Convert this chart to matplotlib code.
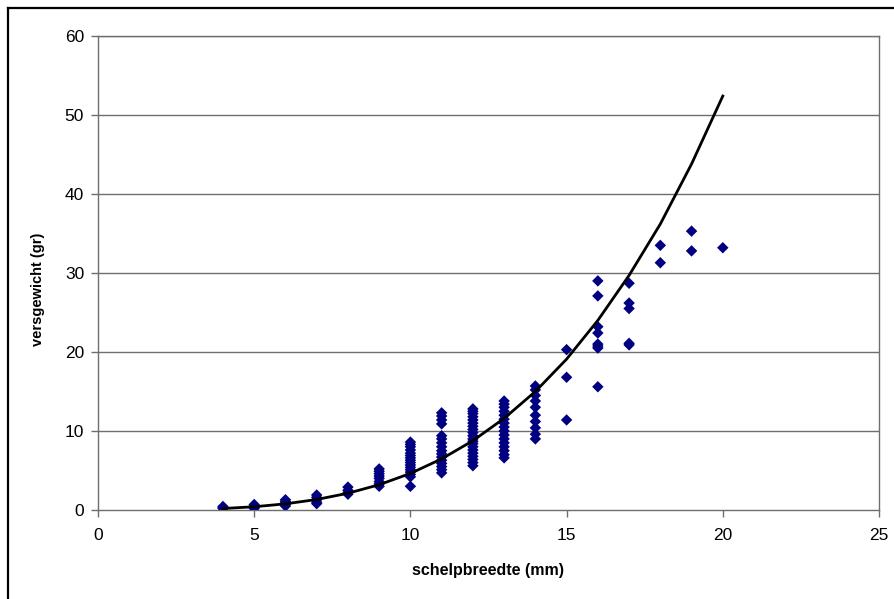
import matplotlib
matplotlib.use("Agg")
import matplotlib.pyplot as plt
from matplotlib.lines import Line2D

plt.rcParams['font.family'] = ['Liberation Sans', 'DejaVu Sans']

# Observed data: shell width (mm) -> fresh weight (g)
x_4 = [4, 4, 4]
y_4 = [0.2, 0.3, 0.45]
x_5 = [5, 5, 5, 5]
y_5 = [0.2, 0.35, 0.5, 0.7]
x_6 = [6, 6, 6, 6, 6]
y_6 = [0.5, 0.7, 0.9, 1.1, 1.3]
x_7 = [7, 7, 7, 7, 7]
y_7 = [0.8, 1.0, 1.3, 1.6, 1.9]
x_8 = [8, 8, 8, 8]
y_8 = [2.0, 2.2, 2.5, 2.9]
x_9 = [9, 9, 9, 9, 9, 9, 9, 9]
y_9 = [3.0, 3.3, 3.6, 4.0, 4.3, 4.6, 4.9, 5.2]
x_10 = [10] * 16
y_10 = [3.0, 4.2, 4.5, 4.8, 5.1, 5.4, 5.7, 6.0, 6.3, 6.6, 6.9, 7.2, 7.6, 8.0, 8.3, 8.6]
x_11 = [11] * 16
y_11 = [4.7, 5.1, 5.5, 5.9, 6.3, 6.7, 7.1, 7.5, 8.0, 8.5, 9.0, 9.4, 10.9, 11.4, 11.9, 12.3]
x_12 = [12] * 20
y_12 = [5.6, 6.0, 6.4, 6.8, 7.2, 7.6, 8.0, 8.4, 8.7, 9.0, 9.4, 9.8, 10.2, 10.6, 11.0,
        11.4, 11.8, 12.2, 12.5, 12.8]
x_13 = [13] * 16
y_13 = [6.6, 7.0, 7.5, 8.0, 8.5, 9.0, 9.5, 10.0, 10.5, 11.0, 11.5, 12.0, 12.5, 13.0, 13.4, 13.8]
x_14 = [14] * 10
y_14 = [9.0, 9.6, 10.4, 11.2, 12.0, 13.0, 13.8, 14.5, 15.2, 15.7]
x_15 = [15, 15, 15]
y_15 = [11.4, 16.8, 20.3]
x_16 = [16] * 8
y_16 = [15.6, 20.5, 20.75, 21.0, 22.4, 23.2, 27.1, 29.0]
x_17 = [17] * 5
y_17 = [20.9, 21.1, 25.5, 26.2, 28.7]
x_18 = [18, 18]
y_18 = [31.3, 33.5]
x_19 = [19, 19]
y_19 = [32.8, 35.3]
x_20 = [20]
y_20 = [33.2]

obs_x = (x_4 + x_5 + x_6 + x_7 + x_8 + x_9 + x_10 + x_11 + x_12 + x_13 + x_14 +
         x_15 + x_16 + x_17 + x_18 + x_19 + x_20)
obs_y = (y_4 + y_5 + y_6 + y_7 + y_8 + y_9 + y_10 + y_11 + y_12 + y_13 + y_14 +
         y_15 + y_16 + y_17 + y_18 + y_19 + y_20)

# Trend line values
trend_x = [4, 5, 6, 7, 8, 9, 10, 11, 12, 13, 14, 15, 16, 17, 18, 19, 20]
trend_y = [0.19, 0.41, 0.78, 1.33, 2.12, 3.2, 4.63, 6.47, 8.77, 11.6, 15.0, 19.1,
           24.0, 29.7, 36.2, 43.8, 52.4]

x_ticks = [0, 5, 10, 15, 20, 25]
y_ticks = [0, 10, 20, 30, 40, 50, 60]

fig = plt.figure(figsize=(8.95, 5.99), dpi=100)
ax = fig.add_axes([98 / 895, 1 - 510 / 599, (879 - 98) / 895, (510 - 36) / 599])

grid_col = '#6e6e6e'
for yv in y_ticks[1:]:
    ax.axhline(yv, color=grid_col, lw=1.0, zorder=1)

ax.scatter(obs_x, obs_y, marker='D', s=34, color='#000080', edgecolors='none', zorder=3)
ax.plot(trend_x, trend_y, color='black', lw=2.0, zorder=4)

ax.set_xlim(0, 25)
ax.set_ylim(0, 60)
ax.set_xticks(x_ticks)
ax.set_yticks(y_ticks)
ax.set_xticklabels([str(v) for v in x_ticks])
ax.set_yticklabels([str(v) for v in y_ticks])

for s in ax.spines.values():
    s.set_color(grid_col)
    s.set_linewidth(1.0)
ax.tick_params(axis='both', direction='out', color=grid_col, length=5, width=1,
               labelsize=12.5, colors='black')
ax.tick_params(axis='x', pad=8)
ax.tick_params(axis='y', pad=5)

ax.set_xlabel('schelpbreedte (mm)', fontsize=11.5, fontweight='bold', labelpad=14)
ax.set_ylabel('versgewicht (gr)', fontsize=10.5, fontweight='bold')
ax.yaxis.set_label_coords(-0.068, 0.466)

# outer chart frame (left and top edges)
fig.add_artist(Line2D([8 / 895, 8 / 895], [0, 1 - 8 / 599], transform=fig.transFigure,
                      color='black', lw=1.6))
fig.add_artist(Line2D([8 / 895, 1], [1 - 8 / 599, 1 - 8 / 599], transform=fig.transFigure,
                      color='black', lw=1.6))

fig.savefig('out.png', dpi=100)
